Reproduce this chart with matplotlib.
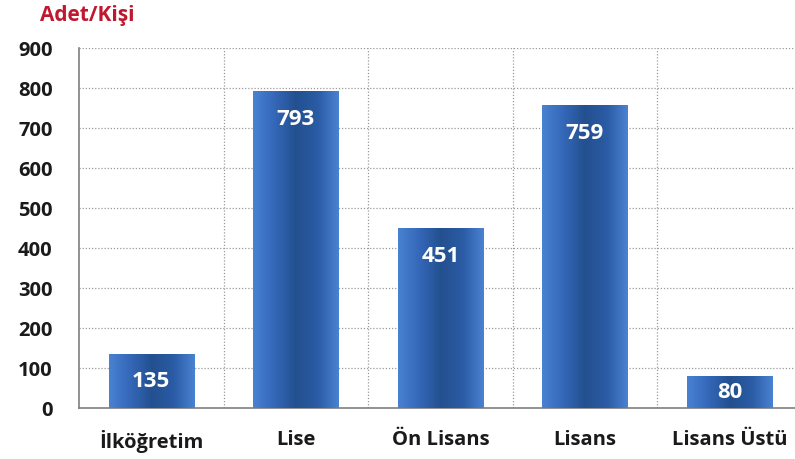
import matplotlib.pyplot as plt
import numpy as np
from matplotlib.colors import LinearSegmentedColormap

categories = ['İlköğretim', 'Lise', 'Ön Lisans', 'Lisans', 'Lisans Üstü']
values = [135, 793, 451, 759, 80]
y_ticks = [0, 100, 200, 300, 400, 500, 600, 700, 800, 900]

plt.rcParams['font.family'] = ['Open Sans', 'DejaVu Sans']

fig = plt.figure(figsize=(7.95, 4.59), dpi=100)
ax = fig.add_axes([0.0994, 0.111, 0.909, 0.784])

x = np.arange(len(categories))
bars = ax.bar(x, values, width=0.59, color='#2f63b2', zorder=2)

# horizontal gradient inside each bar
grad = LinearSegmentedColormap.from_list(
    'bar', ['#4a82d2', '#3467b8', '#23508f', '#2a5ba4', '#4a82d2'])
g = np.linspace(0, 1, 256).reshape(1, -1)
for b in bars:
    x0, y0 = b.get_x(), b.get_y()
    im = ax.imshow(g, cmap=grad, aspect='auto', zorder=3,
                   extent=[x0, x0 + b.get_width(), y0, y0 + b.get_height()])
    im.set_clip_path(b)

# value labels: near the top, or centred for short bars
for xi, v in zip(x, values):
    ax.text(xi, max(v - 72, v / 2), str(v), ha='center', va='center',
            color='white', fontsize=16, fontweight='bold', zorder=4)

ax.set_xlim(-0.5, len(categories) - 0.5)
ax.set_ylim(0, 900)
ax.set_yticks(y_ticks)
ax.set_yticklabels([str(t) for t in y_ticks])
ax.set_xticks(x)
ax.set_xticklabels(categories)

# dotted grid: horizontal every 100, vertical between categories
for t in y_ticks[1:]:
    ax.axhline(t, color='#9a9a9a', linestyle=(0, (1, 1.5)), linewidth=0.9, zorder=1)
for b in np.arange(0.5, len(categories) - 0.5, 1):
    ax.axvline(b, color='#9a9a9a', linestyle=(0, (1, 1.5)), linewidth=0.9, zorder=1)

ax.tick_params(axis='y', length=0, pad=19, labelsize=14.5, labelcolor='#1a1a1a')
ax.tick_params(axis='x', length=0, pad=16, labelsize=14.5, labelcolor='#1a1a1a')
for lbl in ax.get_xticklabels() + ax.get_yticklabels():
    lbl.set_fontweight('bold')

for s in ['top', 'right']:
    ax.spines[s].set_visible(False)
for s in ['left', 'bottom']:
    ax.spines[s].set_color('#7f7f7f')
    ax.spines[s].set_linewidth(1.2)

fig.text(0.05, 0.967, 'Adet/Kişi', color='#c0182f', fontsize=15,
         fontweight='bold', ha='left', va='center')

fig.savefig('out.png', dpi=100)
